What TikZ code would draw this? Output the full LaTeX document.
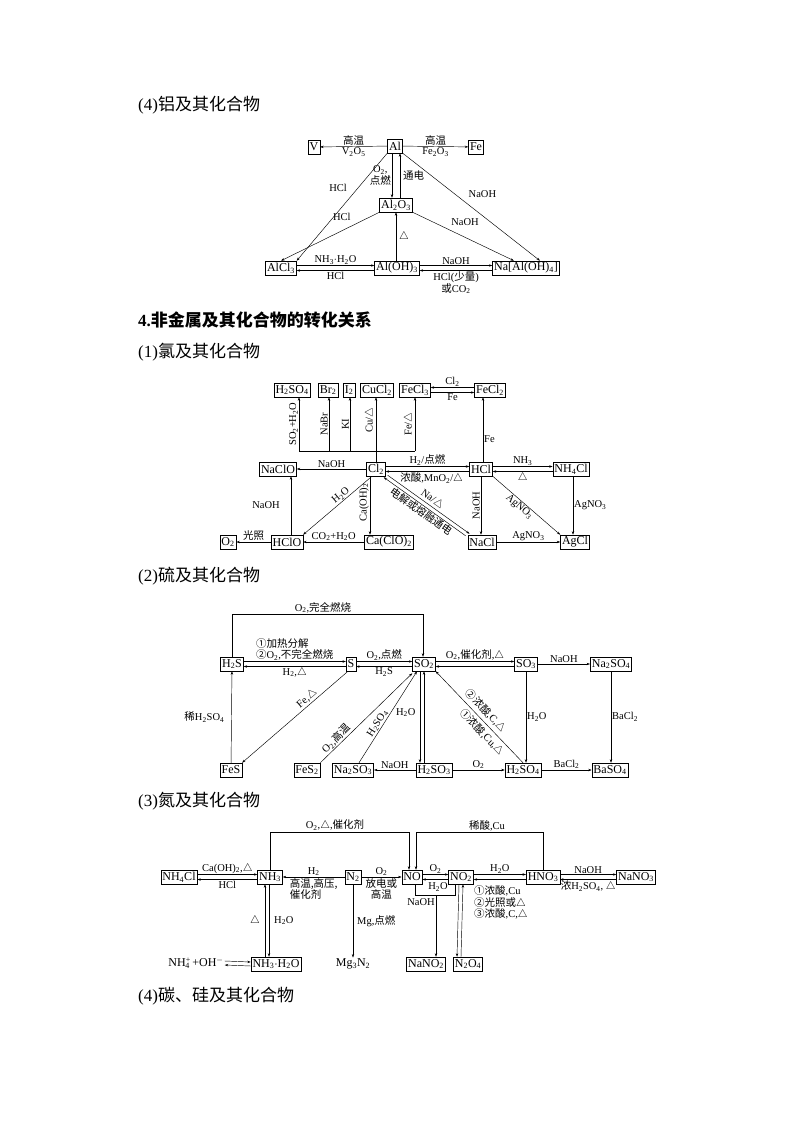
\documentclass[tikz,border=0pt]{standalone}
\usepackage{fontspec}
\setmainfont{Liberation Serif}
\newfontfamily\cjk{Noto Sans CJK SC}
\newcommand\zh[1]{{\cjk #1}}
\newcommand\dn[1]{\textsubscript{#1}}
\usetikzlibrary{arrows.meta}
\begin{document}
\begin{tikzpicture}[x=1pt,y=-1pt,
  box/.style={draw,line width=0.5pt,inner sep=1.5pt,minimum height=14pt,font=\fontsize{12}{12}\selectfont},
  txt/.style={inner sep=1pt,font=\fontsize{12}{12}\selectfont},
  lab/.style={inner sep=1pt,font=\fontsize{10.5}{11.5}\selectfont},
  title/.style={anchor=west,inner sep=0pt,font=\fontsize{17}{19}\selectfont},
  a/.style={-{Stealth[length=3.5pt,width=2.4pt]},line width=0.45pt},
  ln/.style={line width=0.45pt},
  every label/.style={lab}]
\useasboundingbox (0,0) rectangle (794,1123);
% ---------------- Al
\node[title] (t1) at (138,105) {(4)\zh{铝及其化合物}};
\node[box] (V) at (314,147) {V};
\node[box] (Al) at (395,146) {Al};
\node[box] (Fe) at (476,147) {Fe};
\node[box] (Al2O3) at (396,205) {Al\dn2O\dn3};
\node[box] (AlCl3) at (281,268) {AlCl\dn3};
\node[box] (AlOH3) at (397,268) {Al(OH)\dn3};
\node[box] (NaAl) at (526,268) {Na[Al(OH)\dn4]};
\draw[a] (Al) -- (V) node[lab,midway,above]{\zh{高温}} node[lab,midway,below]{V\dn2O\dn5};
\draw[a] (Al) -- (Fe) node[lab,midway,above]{\zh{高温}} node[lab,midway,below]{Fe\dn2O\dn3};
\draw[a] ([xshift=-3pt]Al.south) -- ([xshift=-4pt]Al2O3.north) node[lab,midway,left,align=center]{O\dn2,\\\zh{点燃}};
\draw[a] ([xshift=4pt]Al2O3.north) -- ([xshift=5pt]Al.south) node[lab,midway,right=2pt]{\zh{通电}};
\draw[a] (Al.south west) -- (AlCl3.north east) node[lab,pos=0.4,above left=3pt]{HCl};
\draw[a] (Al.south east) -- ([xshift=14pt]NaAl.north) node[lab,pos=0.45,above right=3pt]{NaOH};
\draw[a] (Al2O3.south west) -- (AlCl3.north) node[lab,pos=0.25,above left=3pt]{HCl};
\draw[a] (Al2O3.south east) -- ([xshift=-12pt]NaAl.north) node[lab,pos=0.35,above right=2pt]{NaOH};
\draw[a] (AlOH3.north -| Al2O3.south) -- (Al2O3.south) node[lab,midway,right=2pt]{$\triangle$};
\draw[a] ([yshift=2.5pt]AlCl3.east) -- ([yshift=2.5pt]AlOH3.west) node[lab,midway,above]{NH\dn3$\cdot$H\dn2O};
\draw[a] ([yshift=-2.5pt]AlOH3.west) -- ([yshift=-2.5pt]AlCl3.east) node[lab,midway,below]{HCl};
\draw[a] ([yshift=2.5pt]AlOH3.east) -- ([yshift=2.5pt]NaAl.west) node[lab,midway,above]{NaOH};
\draw[a] ([yshift=-2.5pt]NaAl.west) -- ([yshift=-2.5pt]AlOH3.east) node[lab,midway,below,align=center]{HCl(\zh{少量})\\\zh{或}CO\dn2};
% ---------------- headings
\node[title] (t2) at (138,320) {\textbf{4.}\zh{\bfseries 非金属及其化合物的转化关系}};
\node[title] (t3) at (138,352) {(1)\zh{氯及其化合物}};
% ---------------- Cl
\node[box] (H2SO4c) at (292,390) {H\dn2SO\dn4};
\node[box] (Br2) at (328,390) {Br\dn2};
\node[box] (I2) at (349,390) {I\dn2};
\node[box] (CuCl2) at (377,390) {CuCl\dn2};
\node[box] (FeCl3) at (415,390) {FeCl\dn3};
\node[box] (FeCl2) at (490,390) {FeCl\dn2};
\node[box] (NaClO) at (278,469) {NaClO};
\node[box] (Cl2) at (376,469) {Cl\dn2};
\node[box] (HCl) at (481,469) {HCl};
\node[box] (NH4Cl) at (571,469) {NH\dn4Cl};
\node[box] (O2) at (228,542) {O\dn2};
\node[box] (HClO) at (287,542) {HClO};
\node[box] (CaClO2) at (389,542) {Ca(ClO)\dn2};
\node[box] (NaCl) at (482,542) {NaCl};
\node[box] (AgCl) at (575,542) {AgCl};
\coordinate (j1) at (299,451);
\coordinate (j2) at (329,451);
\coordinate (j3) at (350,451);
\coordinate (j4) at (415,451);
\draw[ln] (j1) -- (j4);
\draw[a] (j1) -- (j1 |- H2SO4c.south) node[lab,midway,rotate=90,above]{SO\dn2+H\dn2O};
\draw[a] (j2) -- (j2 |- Br2.south) node[lab,midway,rotate=90,above]{NaBr};
\draw[a] (j3) -- (j3 |- I2.south) node[lab,midway,rotate=90,above]{KI};
\draw[a] (Cl2.north) -- (Cl2.north |- CuCl2.south) node[lab,pos=0.65,rotate=90,above]{Cu/$\triangle$};
\draw[a] (j4) -- (j4 |- FeCl3.south) node[lab,midway,rotate=90,above]{Fe/$\triangle$};
\draw[a] ([yshift=2.5pt]FeCl2.west) -- ([yshift=2.5pt]FeCl3.east) node[lab,midway,above]{Cl\dn2};
\draw[a] ([yshift=-2.5pt]FeCl3.east) -- ([yshift=-2.5pt]FeCl2.west) node[lab,midway,below]{Fe};
\draw[a] ([xshift=2pt]HCl.north) -- ([xshift=2pt]HCl.north |- FeCl2.south) node[lab,pos=0.35,right]{Fe};
\draw[a] (Cl2) -- (NaClO) node[lab,midway,above]{NaOH};
\draw[a] ([yshift=2.5pt]Cl2.east) -- ([yshift=2.5pt]HCl.west) node[lab,midway,above]{H\dn2/\zh{点燃}};
\draw[a] ([yshift=-2.5pt]HCl.west) -- ([yshift=-2.5pt]Cl2.east) node[lab,pos=0.45,below]{\zh{浓酸},MnO\dn2/$\triangle$};
\draw[a] ([yshift=2.5pt]HCl.east) -- ([yshift=2.5pt]NH4Cl.west) node[lab,midway,above]{NH\dn3};
\draw[a] ([yshift=-2.5pt]NH4Cl.west) -- ([yshift=-2.5pt]HCl.east) node[lab,midway,below]{$\triangle$};
\draw[a] ([xshift=2pt]NH4Cl.south) -- ([xshift=2pt]NH4Cl.south |- AgCl.north) node[lab,midway,right]{AgNO\dn3};
\draw[a] (HCl.south) -- (HCl.south |- NaCl.north) node[lab,pos=0.5,rotate=90,above]{NaOH};
\draw[a] (HCl.south east) -- (AgCl.north west) node[lab,pos=0.45,sloped,below]{AgNO\dn3};
\draw[a] (NaCl) -- (AgCl) node[lab,midway,above]{AgNO\dn3};
\draw[a] ([xshift=2pt,yshift=1pt]Cl2.south east) -- ([xshift=2pt,yshift=1pt]NaCl.north west) node[lab,pos=0.5,sloped,above]{Na/$\triangle$};
\draw[a] ([xshift=-2pt,yshift=-1pt]NaCl.north west) -- ([xshift=-2pt,yshift=-1pt]Cl2.south east) node[lab,pos=0.5,sloped,below]{\zh{电解或熔融通电}};
\draw[a] ([xshift=-4pt]Cl2.south) -- (HClO.north east) node[lab,pos=0.4,sloped,above]{H\dn2O};
\draw[a] ([xshift=-6pt]Cl2.south) -- ([xshift=-6pt]Cl2.south |- CaClO2.north) node[lab,pos=0.45,rotate=90,above]{Ca(OH)\dn2};
\draw[a] (CaClO2) -- (HClO) node[lab,midway,above]{CO\dn2+H\dn2O};
\draw[a] ([xshift=4pt]HClO.north) -- ([xshift=4pt]HClO.north |- NaClO.south) node[lab,midway,left=10pt]{NaOH};
\draw[a] (HClO) -- (O2) node[lab,midway,above]{\zh{光照}};
% ---------------- S
\node[title] (t4) at (138,576) {(2)\zh{硫及其化合物}};
\node[box] (H2S) at (232,664) {H\dn2S};
\node[box] (S) at (351,664) {S};
\node[box] (SO2) at (424,664) {SO\dn2};
\node[box] (SO3) at (526,664) {SO\dn3};
\node[box] (Na2SO4) at (611,664) {Na\dn2SO\dn4};
\node[box] (FeS) at (231,770) {FeS};
\node[box] (FeS2) at (307,770) {FeS\dn2};
\node[box] (Na2SO3) at (353,770) {Na\dn2SO\dn3};
\node[box] (H2SO3) at (434,770) {H\dn2SO\dn3};
\node[box] (H2SO4) at (523,770) {H\dn2SO\dn4};
\node[box] (BaSO4) at (610,770) {BaSO\dn4};
\coordinate (s1) at (423,614);
\draw[a] (H2S.north) |- (s1) -- (s1 |- SO2.north);
\node[lab,above] (s1l) at (323,614) {O\dn2,\zh{完全燃烧}};
\draw[a] ([yshift=2.5pt]H2S.east) -- ([yshift=2.5pt]S.west) node[lab,midway,above,align=left]{\zh{①加热分解}\\\zh{②}O\dn2,\zh{不完全燃烧}};
\draw[a] ([yshift=-2.5pt]S.west) -- ([yshift=-2.5pt]H2S.east) node[lab,midway,below]{H\dn2,$\triangle$};
\draw[a] ([yshift=2.5pt]S.east) -- ([yshift=2.5pt]SO2.west) node[lab,midway,above]{O\dn2,\zh{点燃}};
\draw[a] ([yshift=-2.5pt]SO2.west) -- ([yshift=-2.5pt]S.east) node[lab,midway,below]{H\dn2S};
\draw[a] ([yshift=2.5pt]SO2.east) -- ([yshift=2.5pt]SO3.west) node[lab,midway,above]{O\dn2,\zh{催化剂},$\triangle$};
\draw[a] ([yshift=-2.5pt]SO3.west) -- ([yshift=-2.5pt]SO2.east);
\draw[a] (SO3) -- (Na2SO4) node[lab,midway,above]{NaOH};
\draw[a] (SO3.south) -- (SO3.south |- H2SO4.north) node[lab,midway,right]{H\dn2O};
\draw[a] (Na2SO4.south) -- (Na2SO4.south |- BaSO4.north) node[lab,midway,right]{BaCl\dn2};
\draw[a] (H2SO4) -- (BaSO4) node[lab,midway,above]{BaCl\dn2};
\draw[a] (H2SO3) -- (H2SO4) node[lab,midway,above]{O\dn2};
\draw[a] (H2SO3) -- (Na2SO3) node[lab,midway,above]{NaOH};
\draw[a] ([xshift=-4pt]SO2.south) -- ([xshift=-4pt]SO2.south |- H2SO3.north);
\draw[a] ([xshift=0pt]SO2.south |- H2SO3.north) -- ([xshift=0pt]SO2.south);
\draw[a] ([xshift=6pt]Na2SO3.north) -- ([xshift=-7pt]SO2.south) node[lab,pos=0.4,sloped,above]{H\dn2SO\dn4} node[lab,pos=0.55,right=4pt]{H\dn2O};
\draw[a] (FeS2.north east) -- ([yshift=-2pt]SO2.south west) node[lab,pos=0.22,sloped,above]{O\dn2,\zh{高温}};
\draw[a] ([xshift=-3pt]S.south) -- (FeS.north east) node[lab,pos=0.35,sloped,above]{Fe,$\triangle$};
\draw[a] (FeS) -- (H2S) node[lab,midway,left=6pt]{\zh{稀}H\dn2SO\dn4};
\draw[a] (H2SO4.north) -- (SO2.south east) node[lab,pos=0.5,sloped,above=2pt]{\zh{②浓酸},C,$\triangle$} node[lab,pos=0.4,sloped,below=2pt]{\zh{①浓酸},Cu,$\triangle$};
% ---------------- N
\node[title] (t5) at (138,801) {(3)\zh{氮及其化合物}};
\node[box] (NH4Cl2) at (179,877) {NH\dn4Cl};
\node[box] (NH3) at (270,877) {NH\dn3};
\node[box] (N2) at (353,877) {N\dn2};
\node[box] (NO) at (412,877) {NO};
\node[box] (NO2) at (461,877) {NO\dn2};
\node[box] (HNO3) at (543,877) {HNO\dn3};
\node[box] (NaNO3) at (636,877) {NaNO\dn3};
\node[box] (NH3H2O) at (276,964) {NH\dn3$\cdot$H\dn2O};
\node[txt] (ion) at (196,963) {NH\textsuperscript{+}\kern-0.45em\dn4\kern0.2em+OH\textsuperscript{$-$}};
\node[txt] (Mg3N2) at (353,964) {Mg\dn3N\dn2};
\node[box] (NaNO2) at (426,964) {NaNO\dn2};
\node[box] (N2O4) at (468,964) {N\dn2O\dn4};
\coordinate (n1) at (409,832);
\coordinate (n2) at (416,832);
\draw[a] (NH3.north) |- (n1) -- (n1 |- NO.north);
\node[lab,above] (n1l) at (335,832) {O\dn2,$\triangle$,\zh{催化剂}};
\draw[a] (HNO3.north) |- (n2) -- (n2 |- NO.north);
\node[lab,above] (n2l) at (487,832) {\zh{稀酸},Cu};
\draw[a] ([yshift=2.5pt]NH4Cl2.east) -- ([yshift=2.5pt]NH3.west) node[lab,midway,above]{Ca(OH)\dn2,$\triangle$};
\draw[a] ([yshift=-2.5pt]NH3.west) -- ([yshift=-2.5pt]NH4Cl2.east) node[lab,midway,below]{HCl};
\draw[a] (N2) -- (NH3) node[lab,midway,above]{H\dn2} node[lab,midway,below,align=left]{\zh{高温,高压,}\\\zh{催化剂}};
\draw[a] (N2) -- (NO) node[lab,midway,above]{O\dn2} node[lab,midway,below,align=center]{\zh{放电或}\\\zh{高温}};
\draw[a] ([yshift=2.5pt]NO.east) -- ([yshift=2.5pt]NO2.west) node[lab,midway,above]{O\dn2};
\draw[a] ([yshift=-2.5pt]NO2.west) -- ([yshift=-2.5pt]NO.east);
\coordinate (b1) at (436,895);
\draw[ln] ([xshift=3pt]NO.south) |- (b1) -| ([xshift=-6pt]NO2.south);
\node[lab] (h2ol) at (438,887) {H\dn2O};
\draw[a] (b1) -- (b1 |- NaNO2.north) node[lab,pos=0.12,left]{NaOH};
\draw[a] ([xshift=-2pt]NO2.south) -- ([xshift=-11pt]N2O4.north);
\draw[a] ([xshift=-7pt]N2O4.north) -- ([xshift=2pt]NO2.south);
\draw[a] ([yshift=2.5pt]NO2.east) -- ([yshift=2.5pt]HNO3.west) node[lab,midway,above]{H\dn2O};
\draw[a] ([yshift=-2.5pt]HNO3.west) -- ([yshift=-2.5pt]NO2.east) node[lab,pos=0,anchor=north west,xshift=-53pt,yshift=-5pt,align=left]{\zh{①浓酸},Cu\\\zh{②光照或}$\triangle$\\\zh{③浓酸},C,$\triangle$};
\draw[a] ([yshift=2.5pt]HNO3.east) -- ([yshift=2.5pt]NaNO3.west) node[lab,midway,above]{NaOH};
\draw[a] ([yshift=-2.5pt]NaNO3.west) -- ([yshift=-2.5pt]HNO3.east) node[lab,midway,below]{\zh{浓}H\dn2SO\dn4, $\triangle$};
\draw[a] (N2.south) -- (Mg3N2.north) node[lab,midway,right=3pt]{Mg,\zh{点燃}};
\draw[a] ([xshift=-11pt]NH3H2O.north) -- ([xshift=-5pt]NH3.south) node[lab,midway,left=4pt]{$\triangle$};
\draw[a] ([xshift=-1pt]NH3.south) -- ([xshift=-7pt]NH3H2O.north) node[lab,midway,right=4pt]{H\dn2O};
\draw[a] ([yshift=2pt]ion.east) -- ([yshift=2pt]NH3H2O.west);
\draw[a] ([yshift=-2pt]NH3H2O.west) -- ([yshift=-2pt]ion.east);
\node[title] (t6) at (138,996) {(4)\zh{碳、硅及其化合物}};
\end{tikzpicture}
\end{document}
